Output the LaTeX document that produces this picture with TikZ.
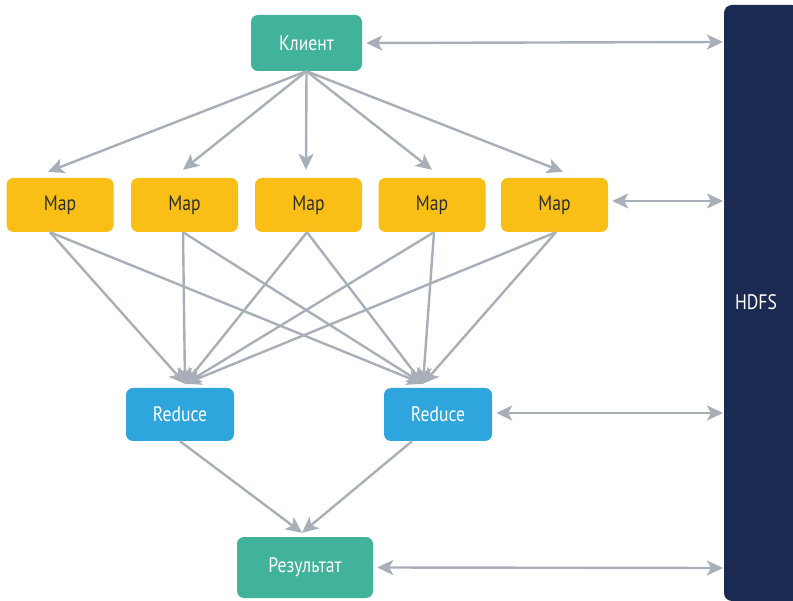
\documentclass[tikz,border=0pt]{standalone}
\usepackage{fontspec}
\setmainfont{PT Sans}[FakeStretch=0.84]
\usetikzlibrary{arrows.meta}
\definecolor{tealbox}{HTML}{41B39B}
\definecolor{mapbox}{HTML}{F9BF16}
\definecolor{redbox}{HTML}{2EA6DD}
\definecolor{hdfsbar}{HTML}{1B2A53}
\definecolor{link}{HTML}{A9AFB8}
\definecolor{maptext}{HTML}{2E2E2E}
\begin{document}
\begin{tikzpicture}[x=1pt,y=-1pt,
  box/.style={rounded corners=7pt, inner sep=0pt, font=\fontsize{21}{24}\selectfont},
  clientbox/.style={box, fill=tealbox, text=white, minimum width=111pt, minimum height=56pt},
  mapnode/.style={box, fill=mapbox, text=maptext, minimum width=107pt, minimum height=54pt},
  reducenode/.style={box, fill=redbox, text=white, minimum width=108pt, minimum height=53pt},
  resultnode/.style={box, fill=tealbox, text=white, minimum width=136pt, minimum height=61pt},
  tip/.tip={Stealth[length=16pt,width=15pt,inset=4pt]},
  flow/.style={draw=link, line width=2.4pt, -tip},
  both/.style={draw=link, line width=2.4pt, tip-tip}
]
\useasboundingbox (0,0) rectangle (793,601);

% storage bar
\fill[hdfsbar, rounded corners=8pt] (724,601) -- (724,5) -- (800,5) -- (800,601) -- cycle;
\node[text=white, font=\fontsize{21}{24}\selectfont] (hdfs) at (756,302) {HDFS};
\coordinate (h1) at (723,42);
\coordinate (h2) at (723,201);
\coordinate (h3) at (723,413);
\coordinate (h4) at (723,568);

% nodes
\node[clientbox] (client) at (306.5,43) {Клиент};
\node[mapnode] (m1) at (60,205) {Map};
\node[mapnode] (m2) at (184.5,205) {Map};
\node[mapnode] (m3) at (308.5,205) {Map};
\node[mapnode] (m4) at (432,205) {Map};
\node[mapnode] (m5) at (554.5,205) {Map};
\node[reducenode] (r1) at (180,414.5) {Reduce};
\node[reducenode] (r2) at (438,414.5) {Reduce};
\node[resultnode] (res) at (305,567.5) {Результат};

% client to maps
\draw[flow] (client.south) -- ([xshift=-12pt,yshift=6pt]m1.north);
\draw[flow] (client.south) -- ([xshift=-1.5pt,yshift=8pt]m2.north);
\draw[flow] (client.south) -- ([xshift=-2.5pt,yshift=8pt]m3.north);
\draw[flow] (client.south) -- ([xshift=0pt,yshift=8pt]m4.north);
\draw[flow] (client.south) -- ([xshift=8.5pt,yshift=6pt]m5.north);

% maps to reducers
\coordinate (t1) at ([xshift=5pt,yshift=4pt]r1.north);
\coordinate (t2) at ([xshift=-15pt,yshift=4pt]r2.north);
\foreach \m/\dx in {m1/-10pt, m2/-1.5pt, m3/-1.5pt, m4/2pt, m5/1.5pt}{
  \draw[flow] ([xshift=\dx]\m.south) -- (t1);
  \draw[flow] ([xshift=\dx]\m.south) -- (t2);
}

% reducers to result
\draw[flow] (r1.south) -- ([xshift=-3pt,yshift=4pt]res.north);
\draw[flow] ([xshift=-26pt]r2.south) -- ([xshift=-3pt,yshift=4pt]res.north);

% exchange with storage
\draw[both] ([xshift=4pt]client.east) -- (h1);
\draw[both] ([xshift=4pt,yshift=4pt]m5.east) -- (h2);
\draw[both] ([xshift=4pt,yshift=1.5pt]r2.east) -- (h3);
\draw[both] ([xshift=4pt]res.east) -- (h4);
\end{tikzpicture}
\end{document}
